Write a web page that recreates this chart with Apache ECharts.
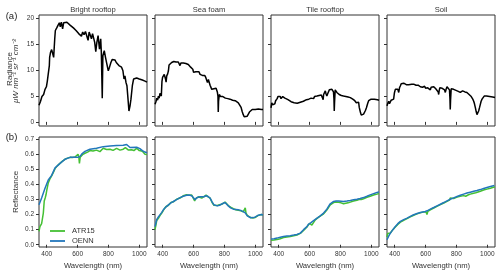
<!DOCTYPE html>
<html><head><meta charset="utf-8">
<script src="https://cdn.jsdelivr.net/npm/echarts@6/dist/echarts.min.js"></script>
<style>html,body{margin:0;padding:0;background:#fff}#c{width:500px;height:276px}</style>
</head><body><div id="c"></div>
<script>
// ---- data ----
const panelTitles = ['Bright rooftop', 'Sea foam', 'Tile rooftop', 'Soil'];
const xTicks = [400, 600, 800, 1000];
const radTicks = [0, 5, 10, 15, 20];
const refTicks = [0, 0.1, 0.2, 0.3, 0.4, 0.5, 0.6, 0.7];

// Radiance (top row)
const wlRadBright = [350,360,369,380,389,398,404,410,417,419,425,432,441,445,452,456,465,473,482,488,495,503,510,521,531,542,553,564,573,581,590,599,607,616,625,633,642,651,659,668,675,683,690,697,705,711,718,725,733,742,750,754,760,764,773,781,790,799,807,816,825,833,842,851,859,868,877,885,894,901,907,914,920,927,933,940,946,955,963,972,983,1000,1020,1037,1050];
const radBright = [3.2,4.0,4.9,5.3,6.3,6.8,7.9,9.3,10.9,12.5,13.5,14.0,14.1,12.5,16.1,17.7,18.2,18.7,19.2,18.4,19.3,18.0,19.2,19.0,19.3,19.2,18.7,18.8,18.2,18.4,17.7,17.9,17.1,17.4,16.6,17.4,16.9,17.5,17.2,15.8,17.4,17.5,16.1,17.1,17.3,15.4,13.6,15.4,16.7,14.1,16.1,13.5,4.6,12.8,13.8,12.5,11.2,9.9,10.6,11.5,12.1,11.8,12.0,11.5,11.8,10.9,11.2,10.6,9.9,8.3,8.9,7.6,7.0,4.4,2.1,3.1,4.4,7.0,8.3,8.6,8.5,8.3,8.1,7.9,7.7];

const wlRadFoam = [350,356,362,367,372,377,382,387,391,395,399,405,410,415,419,422,426,432,437,441,446,452,458,465,472,479,486,492,497,501,507,512,518,525,534,542,550,558,566,574,581,588,595,600,605,610,615,620,627,635,642,650,657,664,672,679,685,690,696,702,707,712,718,725,732,739,746,754,758,760,762,767,775,782,790,798,806,814,822,830,836,845,853,862,870,879,890,901,908,915,922,928,933,940,948,955,962,970,980,990,1000,1010,1020,1030,1040,1050];
const radFoam = [3.4,3.9,4.6,4.2,5.0,4.6,5.5,5.7,5.0,7.8,8.6,8.8,9.2,9.0,8.2,7.7,8.9,9.3,9.9,11.0,11.2,11.0,11.5,11.4,11.7,11.9,11.6,11.8,11.3,11.6,11.5,10.9,11.4,11.5,11.4,11.2,11.3,11.0,11.1,10.9,10.6,10.7,10.2,9.6,9.9,9.3,9.7,9.6,9.4,9.7,9.2,9.4,9.0,8.9,9.0,8.6,8.4,7.6,8.2,7.9,7.1,6.8,6.3,6.5,6.4,6.2,6.5,5.8,5.0,1.9,4.0,5.3,4.9,4.7,4.9,4.8,4.6,4.8,4.5,4.6,4.4,4.4,4.2,4.3,4.1,4.0,3.7,3.4,2.8,2.0,1.4,1.0,0.8,0.9,1.1,1.4,1.9,2.2,2.4,2.5,2.4,2.4,2.5,2.4,2.4,2.4];

const wlRadTile = [350,355,360,365,370,375,380,385,390,395,400,405,410,415,420,426,432,440,450,460,470,480,490,500,510,520,530,540,550,560,570,580,590,595,600,610,620,626,632,640,648,655,662,669,676,683,688,691,696,702,707,712,718,723,728,734,740,745,750,755,758,760,762,766,772,777,785,792,799,806,812,820,828,835,842,850,857,864,872,880,887,893,898,903,907,912,918,922,926,930,935,940,945,950,956,962,968,972,977,983,990,999,1010,1020,1030,1040,1050];
const radTile = [2.7,3.7,3.3,3.0,3.6,3.5,4.1,4.0,4.5,4.9,5.1,4.6,4.9,4.5,4.8,4.9,4.8,4.6,4.4,4.3,4.1,3.9,3.8,3.7,3.6,3.6,3.7,3.8,3.9,4.0,4.1,4.3,4.5,4.4,4.7,4.6,4.8,4.5,4.9,4.8,5.0,4.7,5.1,5.0,5.2,4.7,4.3,5.3,5.4,6.0,5.4,5.0,5.5,5.6,6.2,6.3,6.4,6.3,6.2,5.8,4.5,2.1,3.8,6.2,6.0,5.7,5.6,5.3,5.4,5.1,5.3,5.0,5.1,4.9,4.9,4.8,4.7,4.7,4.5,4.4,4.4,4.1,4.2,3.7,3.4,3.9,3.8,2.8,2.3,1.8,1.3,1.1,1.3,1.5,1.7,2.2,2.7,2.9,3.6,4.1,4.3,4.4,4.4,4.4,4.4,4.3,4.2];

const wlRadSoil = [350,355,361,366,372,377,383,388,393,398,404,409,415,420,426,431,437,442,448,453,458,464,470,475,480,490,501,510,516,523,530,538,545,552,559,566,573,580,588,594,600,606,609,614,620,626,631,636,642,648,653,660,666,672,677,682,685,688,692,696,702,708,713,718,723,728,733,739,745,750,755,758,760,762,766,771,777,782,790,797,804,812,818,825,832,840,847,855,861,868,875,882,890,896,901,906,912,917,923,928,933,938,944,950,955,960,966,972,980,987,995,1005,1015,1025,1035,1045,1050];
const radSoil = [3.1,3.6,4.0,3.5,3.7,4.2,4.4,4.1,4.4,5.6,6.3,6.1,6.6,6.3,5.7,6.6,7.0,7.4,7.6,7.4,7.5,7.3,7.4,7.2,7.3,7.2,7.1,7.3,7.0,7.3,7.2,7.1,7.0,7.1,6.9,6.8,6.9,6.7,6.6,6.9,6.5,6.7,6.3,6.6,6.8,6.5,6.2,6.7,6.6,6.9,6.8,6.6,6.4,6.5,6.2,5.8,5.3,6.0,6.6,6.8,6.7,6.5,6.7,6.6,6.2,5.7,6.3,6.8,6.6,6.6,6.2,4.5,2.4,4.2,6.4,6.6,6.4,6.3,6.2,6.1,6.0,5.9,5.6,5.7,5.9,6.0,6.0,5.8,5.9,5.7,5.5,5.3,5.0,4.9,4.7,4.4,4.0,3.5,2.7,2.0,1.4,1.6,2.1,2.8,3.4,4.0,4.4,4.7,5.0,5.0,5.0,4.9,4.9,4.8,4.8,4.7,4.7];

// Reflectance (bottom row)
const wlBrightOENN = [350,367,389,410,432,454,486,518,551,583,600,615,630,648,680,723,766,810,853,896,918,940,950,983,1004,1020,1037,1050];
const refBrightOENN = [0.265,0.31,0.375,0.43,0.46,0.51,0.54,0.567,0.58,0.58,0.58,0.585,0.605,0.62,0.634,0.64,0.651,0.656,0.658,0.66,0.665,0.645,0.651,0.647,0.638,0.625,0.615,0.61];
const wlBrightATR = [350,356,362,367,372,378,384,390,395,402,410,420,432,443,454,470,486,500,518,535,551,567,583,595,603,608,612,617,625,635,648,665,680,700,723,745,766,788,810,830,853,875,896,910,918,930,940,950,965,983,1000,1020,1037,1050];
const refBrightATR = [0.088,0.12,0.11,0.14,0.15,0.21,0.29,0.31,0.33,0.37,0.41,0.435,0.457,0.48,0.505,0.525,0.54,0.553,0.567,0.575,0.58,0.579,0.582,0.592,0.6,0.585,0.54,0.58,0.59,0.6,0.607,0.615,0.625,0.622,0.628,0.618,0.64,0.632,0.634,0.626,0.64,0.628,0.634,0.645,0.65,0.628,0.638,0.63,0.625,0.64,0.625,0.62,0.6,0.598];

const wlFoamOENN = [350,361,372,383,394,404,420,437,453,469,490,512,533,555,570,588,600,610,620,631,642,653,667,681,694,707,720,732,743,754,768,782,793,804,815,825,840,858,874,890,906,922,935,948,960,970,985,998,1010,1020,1030,1040,1050];
const refFoamOENN = [0.12,0.166,0.185,0.2,0.215,0.232,0.25,0.265,0.278,0.287,0.3,0.313,0.322,0.329,0.33,0.325,0.315,0.298,0.312,0.32,0.318,0.309,0.318,0.325,0.32,0.309,0.285,0.265,0.26,0.258,0.262,0.27,0.276,0.28,0.275,0.258,0.245,0.236,0.234,0.232,0.228,0.22,0.212,0.192,0.185,0.179,0.18,0.183,0.19,0.196,0.2,0.2,0.198];
const wlFoamATR = [350,356,361,367,372,383,394,404,420,437,453,469,490,512,533,555,570,588,600,607,612,620,631,642,653,667,681,694,707,720,732,743,754,768,782,793,804,815,825,840,858,874,890,906,922,930,935,940,948,960,970,985,998,1010,1020,1030,1040,1050];
const refFoamATR = [0.1,0.13,0.16,0.15,0.175,0.195,0.21,0.228,0.252,0.262,0.28,0.285,0.302,0.31,0.325,0.332,0.328,0.33,0.318,0.29,0.305,0.315,0.318,0.32,0.31,0.32,0.33,0.318,0.31,0.28,0.262,0.258,0.26,0.265,0.268,0.272,0.283,0.27,0.26,0.25,0.24,0.232,0.228,0.225,0.218,0.23,0.245,0.21,0.195,0.185,0.18,0.178,0.18,0.19,0.195,0.2,0.2,0.198];

const wlTileOENN = [350,370,389,410,431,453,475,497,518,530,540,550,561,572,583,592,600,607,615,626,637,653,669,680,691,700,712,723,734,745,756,772,788,804,820,842,864,885,907,928,950,972,993,1015,1037,1050];
const refTileOENN = [0.038,0.04,0.044,0.05,0.055,0.058,0.06,0.064,0.068,0.072,0.077,0.085,0.1,0.11,0.12,0.135,0.143,0.145,0.148,0.16,0.17,0.18,0.192,0.2,0.21,0.222,0.236,0.255,0.272,0.282,0.287,0.29,0.291,0.289,0.287,0.29,0.294,0.298,0.302,0.307,0.313,0.322,0.331,0.339,0.347,0.351];
const wlTileATR = [350,370,389,410,431,453,475,497,518,540,561,583,600,610,615,620,637,653,669,691,712,734,756,772,788,804,820,835,850,864,885,907,920,935,940,950,972,993,1015,1037,1050];
const refTileATR = [0.03,0.032,0.034,0.04,0.048,0.052,0.055,0.06,0.065,0.075,0.095,0.118,0.142,0.148,0.13,0.14,0.165,0.178,0.19,0.205,0.23,0.265,0.28,0.283,0.282,0.278,0.272,0.275,0.278,0.283,0.29,0.295,0.3,0.3,0.313,0.305,0.315,0.322,0.33,0.336,0.34];

const wlSoilOENN = [350,360,372,388,404,420,437,458,480,501,523,545,566,598,615,631,653,674,696,718,739,760,782,804,825,847,868,890,912,933,955,976,998,1020,1046,1050];
const refSoilOENN = [0.033,0.055,0.077,0.1,0.121,0.14,0.155,0.167,0.177,0.188,0.199,0.207,0.214,0.221,0.228,0.236,0.247,0.258,0.269,0.28,0.291,0.302,0.311,0.32,0.328,0.336,0.343,0.349,0.355,0.36,0.366,0.373,0.38,0.386,0.393,0.394];
const wlSoilATR = [350,355,360,366,372,388,404,420,437,458,480,501,523,545,566,590,603,609,615,631,653,674,696,718,739,755,760,765,782,804,825,847,860,875,890,905,912,925,933,955,976,998,1020,1040,1050];
const refSoilATR = [0.05,0.075,0.065,0.07,0.078,0.1,0.118,0.135,0.15,0.162,0.173,0.185,0.196,0.205,0.212,0.218,0.218,0.2,0.222,0.232,0.244,0.255,0.266,0.277,0.288,0.296,0.31,0.3,0.307,0.316,0.322,0.326,0.322,0.33,0.336,0.34,0.352,0.345,0.342,0.355,0.363,0.369,0.375,0.381,0.383];

// ---- build ----
const zip = (w, v) => w.map((x, i) => [x, v[i]]);
const radData = [zip(wlRadBright, radBright), zip(wlRadFoam, radFoam), zip(wlRadTile, radTile), zip(wlRadSoil, radSoil)];
const atrData = [zip(wlBrightATR, refBrightATR), zip(wlFoamATR, refFoamATR), zip(wlTileATR, refTileATR), zip(wlSoilATR, refSoilATR)];
const oennData = [zip(wlBrightOENN, refBrightOENN), zip(wlFoamOENN, refFoamOENN), zip(wlTileOENN, refTileOENN), zip(wlSoilOENN, refSoilOENN)];

const FONT = '"Liberation Sans", Arial, sans-serif';
const TXT = '#333';
const GREEN = '#44c034';
const BLUE = '#2277bb';
const lefts = [39, 155, 271, 387];
const W = 108;

const grid = [], xAxis = [], yAxis = [], series = [], graphic = [];
lefts.forEach((l) => {
  grid.push({left: l, top: 15, width: W, height: 111, show: true, borderColor: '#333', borderWidth: 1, containLabel: false});
});
lefts.forEach((l) => {
  grid.push({left: l, top: 137, width: W, height: 110, show: true, borderColor: '#333', borderWidth: 1, containLabel: false});
});
for (let g = 0; g < 8; g++) {
  const bottom = g >= 4;
  const col = g % 4;
  xAxis.push({
    type: 'value', gridIndex: g, min: 350, max: 1050,
    axisLine: {show: false},
    axisTick: {show: true, length: 3, inside: false, customValues: xTicks, lineStyle: {color: '#333', width: 1}},
    axisLabel: {show: bottom, customValues: xTicks, fontSize: 6.5, color: TXT, fontFamily: FONT, margin: 4,
      formatter: v => String(v)},
    splitLine: {show: false},
    name: bottom ? 'Wavelength (nm)' : '', nameLocation: 'middle', nameGap: 15,
    nameTextStyle: {fontSize: 7.7, color: TXT, fontFamily: FONT}
  });
  yAxis.push({
    type: 'value', gridIndex: g,
    min: bottom ? -0.015 : -0.8, max: bottom ? 0.715 : 20.7,
    axisLine: {show: false},
    axisTick: {show: true, length: 3, inside: false, customValues: bottom ? refTicks : radTicks, lineStyle: {color: '#333', width: 1}},
    axisLabel: {show: col === 0, customValues: bottom ? refTicks : radTicks, fontSize: 6.5, color: TXT, fontFamily: FONT, margin: 5,
      formatter: v => bottom ? Number(v).toFixed(1) : String(v)},
    splitLine: {show: false}
  });
}
for (let c = 0; c < 4; c++) {
  series.push({type: 'line', name: 'Radiance', xAxisIndex: c, yAxisIndex: c, data: radData[c], showSymbol: false, symbol: 'none',
    lineStyle: {color: '#000', width: 1.5}, itemStyle: {color: '#000'}, animation: false, z: 3});
  series.push({type: 'line', name: 'ATR15', xAxisIndex: 4 + c, yAxisIndex: 4 + c, data: atrData[c], showSymbol: false, symbol: 'none',
    lineStyle: {color: GREEN, width: 1.5}, itemStyle: {color: GREEN}, animation: false, z: 3});
  series.push({type: 'line', name: 'OENN', xAxisIndex: 4 + c, yAxisIndex: 4 + c, data: oennData[c], showSymbol: false, symbol: 'none',
    lineStyle: {color: BLUE, width: 1.5}, itemStyle: {color: BLUE}, animation: false, z: 4});
  graphic.push({type: 'text', x: lefts[c] + W / 2, y: 9.5,
    style: {text: panelTitles[c], align: 'center', verticalAlign: 'middle', fontSize: 7.6, fontFamily: FONT, fill: TXT}});
}
graphic.push({type: 'text', x: 11.5, y: 16, style: {text: '(a)', align: 'center', verticalAlign: 'middle', fontSize: 9.5, fontFamily: FONT, fill: '#222'}});
graphic.push({type: 'text', x: 11.5, y: 137.5, style: {text: '(b)', align: 'center', verticalAlign: 'middle', fontSize: 9.5, fontFamily: FONT, fill: '#222'}});
graphic.push({type: 'text', x: 9.5, y: 69, rotation: Math.PI / 2,
  style: {text: 'Radiance', align: 'center', verticalAlign: 'middle', fontSize: 8, fontFamily: FONT, fill: TXT}});
graphic.push({type: 'text', x: 16, y: 71, rotation: Math.PI / 2,
  style: {text: 'μW nm⁻¹ sr⁻¹ cm⁻²', align: 'center', verticalAlign: 'middle', fontSize: 8, fontStyle: 'italic', fontFamily: FONT, fill: TXT}});
graphic.push({type: 'text', x: 16, y: 192, rotation: Math.PI / 2,
  style: {text: 'Reflectance', align: 'center', verticalAlign: 'middle', fontSize: 8, fontFamily: FONT, fill: TXT}});

const chart = echarts.init(document.getElementById('c'), null, {renderer: 'canvas'});
chart.setOption({
  animation: false,
  backgroundColor: '#fff',
  grid, xAxis, yAxis, series, graphic,
  legend: {data: [{name: 'ATR15', icon: 'rect'}, {name: 'OENN', icon: 'rect'}], orient: 'vertical', left: 45, top: 222,
    itemWidth: 15, itemHeight: 1.8, itemGap: 2,
    textStyle: {fontSize: 7.5, color: TXT, fontFamily: FONT, padding: [0, 0, 0, 2]}, selectedMode: false}
});
</script></body></html>
